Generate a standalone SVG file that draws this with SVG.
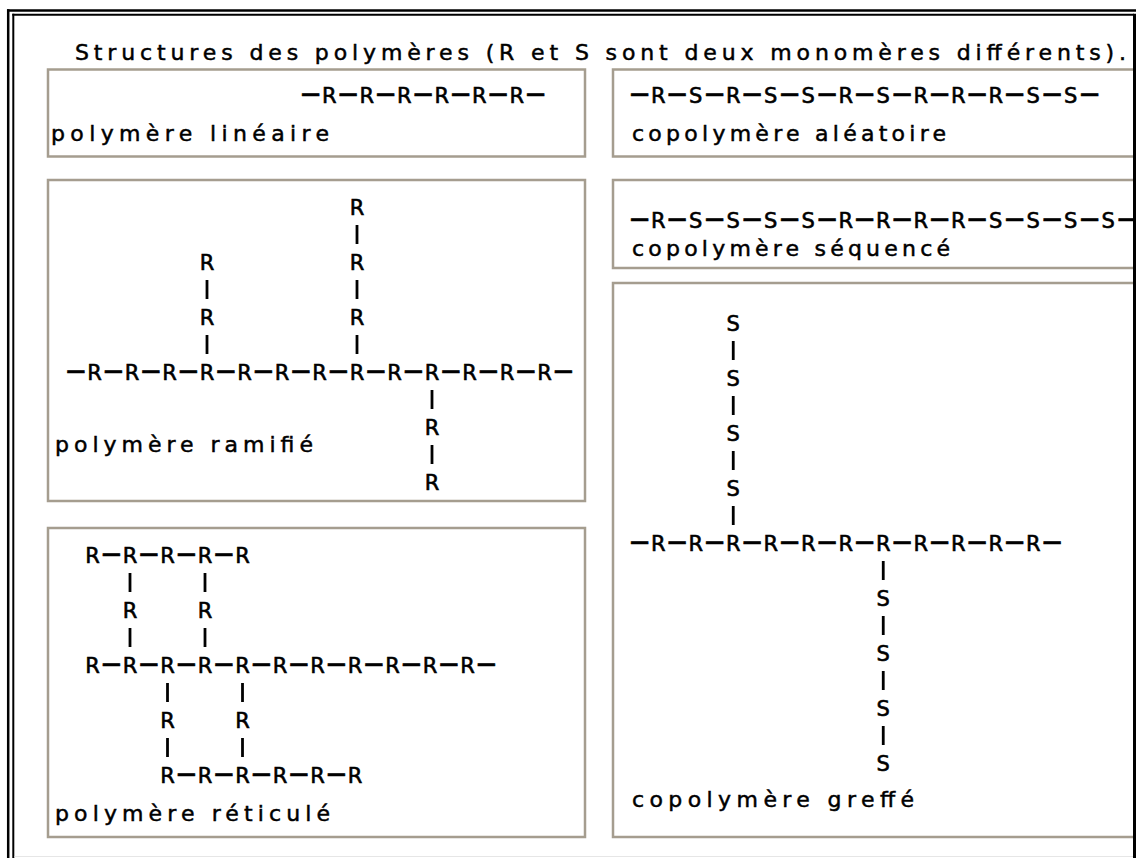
<svg xmlns="http://www.w3.org/2000/svg" width="1136" height="858" viewBox="0 0 1136 858">
  <style>
    .box{fill:#fff;stroke:#a59d8f;stroke-width:2.5}
    text{font-family:"DejaVu Sans","Liberation Sans",sans-serif;font-size:22px;fill:#000;stroke:#000;stroke-width:0.5}
    .ch{text-anchor:middle;font-size:21px;stroke-width:0.6}
    .d{font-size:27px}
    .bond{stroke:#000;stroke-width:2.8}
    .frame{stroke:#000;fill:none}
  </style>
  <rect width="1136" height="858" fill="#fff"/>

  <text id="title" x="75" y="60" textLength="1051">Structures des polymères (R et S sont deux monomères différents).</text>

  <!-- linear polymer -->
  <g id="lineaire">
    <rect class="box" x="48" y="69.5" width="537" height="87"/>
    <text class="ch" y="102.6" x="310.5 329.25 348 366.75 385.5 404.25 423 441.75 460.5 479.25 498 516.75 535.5"><tspan class="d">−</tspan>R<tspan class="d">−</tspan>R<tspan class="d">−</tspan>R<tspan class="d">−</tspan>R<tspan class="d">−</tspan>R<tspan class="d">−</tspan>R<tspan class="d">−</tspan></text>
    <text x="51" y="141" textLength="278">polymère linéaire</text>
  </g>

  <!-- random copolymer -->
  <g id="aleatoire">
    <rect class="box" x="613" y="69.5" width="540" height="87"/>
    <text class="ch" y="102.6" x="639.5 658.25 677 695.75 714.5 733.25 752 770.75 789.5 808.25 827 845.75 864.5 883.25 902 920.75 939.5 958.25 977 995.75 1014.5 1033.25 1052 1070.75 1089.5"><tspan class="d">−</tspan>R<tspan class="d">−</tspan>S<tspan class="d">−</tspan>R<tspan class="d">−</tspan>S<tspan class="d">−</tspan>S<tspan class="d">−</tspan>R<tspan class="d">−</tspan>S<tspan class="d">−</tspan>R<tspan class="d">−</tspan>R<tspan class="d">−</tspan>R<tspan class="d">−</tspan>S<tspan class="d">−</tspan>S<tspan class="d">−</tspan></text>
    <text x="632" y="141" textLength="314">copolymère aléatoire</text>
  </g>

  <!-- branched polymer -->
  <g id="ramifie">
    <rect class="box" x="48" y="180" width="537" height="321"/>
    <text class="ch" y="379.6" x="75.75 94.5 113.25 132 150.75 169.5 188.25 207 225.75 244.5 263.25 282 300.75 319.5 338.25 357 375.75 394.5 413.25 432 450.75 469.5 488.25 507 525.75 544.5 563.25"><tspan class="d">−</tspan>R<tspan class="d">−</tspan>R<tspan class="d">−</tspan>R<tspan class="d">−</tspan>R<tspan class="d">−</tspan>R<tspan class="d">−</tspan>R<tspan class="d">−</tspan>R<tspan class="d">−</tspan>R<tspan class="d">−</tspan>R<tspan class="d">−</tspan>R<tspan class="d">−</tspan>R<tspan class="d">−</tspan>R<tspan class="d">−</tspan>R<tspan class="d">−</tspan></text>
    <text class="ch" x="357" y="214.6">R</text>
    <text class="ch" x="357" y="269.6">R</text>
    <text class="ch" x="357" y="324.6">R</text>
    <text class="ch" x="207" y="269.6">R</text>
    <text class="ch" x="207" y="324.6">R</text>
    <text class="ch" x="432" y="434.6">R</text>
    <text class="ch" x="432" y="489.6">R</text>
    <text x="55" y="452" textLength="258">polymère ramifié</text>
  </g>

  <!-- block copolymer -->
  <g id="sequence">
    <rect class="box" x="613" y="180" width="540" height="88"/>
    <text class="ch" y="227.6" x="639.5 658.25 677 695.75 714.5 733.25 752 770.75 789.5 808.25 827 845.75 864.5 883.25 902 920.75 939.5 958.25 977 995.75 1014.5 1033.25 1052 1070.75 1089.5 1108.25 1127"><tspan class="d">−</tspan>R<tspan class="d">−</tspan>S<tspan class="d">−</tspan>S<tspan class="d">−</tspan>S<tspan class="d">−</tspan>S<tspan class="d">−</tspan>R<tspan class="d">−</tspan>R<tspan class="d">−</tspan>R<tspan class="d">−</tspan>R<tspan class="d">−</tspan>S<tspan class="d">−</tspan>S<tspan class="d">−</tspan>S<tspan class="d">−</tspan>S<tspan class="d">−</tspan></text>
    <text x="632" y="256" textLength="318">copolymère séquencé</text>
  </g>

  <!-- graft copolymer -->
  <g id="greffe">
    <rect class="box" x="613" y="283" width="540" height="554"/>
    <text class="ch" y="550.6" x="639.5 658.25 677 695.75 714.5 733.25 752 770.75 789.5 808.25 827 845.75 864.5 883.25 902 920.75 939.5 958.25 977 995.75 1014.5 1033.25 1052"><tspan class="d">−</tspan>R<tspan class="d">−</tspan>R<tspan class="d">−</tspan>R<tspan class="d">−</tspan>R<tspan class="d">−</tspan>R<tspan class="d">−</tspan>R<tspan class="d">−</tspan>R<tspan class="d">−</tspan>R<tspan class="d">−</tspan>R<tspan class="d">−</tspan>R<tspan class="d">−</tspan>R<tspan class="d">−</tspan></text>
    <text class="ch" x="733.25" y="330.6">S</text>
    <text class="ch" x="733.25" y="385.6">S</text>
    <text class="ch" x="733.25" y="440.6">S</text>
    <text class="ch" x="733.25" y="495.6">S</text>
    <text class="ch" x="883.25" y="605.6">S</text>
    <text class="ch" x="883.25" y="660.6">S</text>
    <text class="ch" x="883.25" y="715.6">S</text>
    <text class="ch" x="883.25" y="770.6">S</text>
    <text x="632" y="807" textLength="282">copolymère greffé</text>
  </g>

  <!-- cross-linked polymer -->
  <g id="reticule">
    <rect class="box" x="48" y="528" width="537" height="309"/>
    <text class="ch" y="562.6" x="92.5 111.25 130 148.75 167.5 186.25 205 223.75 242.5">R<tspan class="d">−</tspan>R<tspan class="d">−</tspan>R<tspan class="d">−</tspan>R<tspan class="d">−</tspan>R</text>
    <text class="ch" x="130" y="617.6">R</text>
    <text class="ch" x="205" y="617.6">R</text>
    <text class="ch" y="672.6" x="92.5 111.25 130 148.75 167.5 186.25 205 223.75 242.5 261.25 280 298.75 317.5 336.25 355 373.75 392.5 411.25 430 448.75 467.5 486.25">R<tspan class="d">−</tspan>R<tspan class="d">−</tspan>R<tspan class="d">−</tspan>R<tspan class="d">−</tspan>R<tspan class="d">−</tspan>R<tspan class="d">−</tspan>R<tspan class="d">−</tspan>R<tspan class="d">−</tspan>R<tspan class="d">−</tspan>R<tspan class="d">−</tspan>R<tspan class="d">−</tspan></text>
    <text class="ch" x="167.5" y="727.6">R</text>
    <text class="ch" x="242.5" y="727.6">R</text>
    <text class="ch" y="782.6" x="167.5 186.25 205 223.75 242.5 261.25 280 298.75 317.5 336.25 355">R<tspan class="d">−</tspan>R<tspan class="d">−</tspan>R<tspan class="d">−</tspan>R<tspan class="d">−</tspan>R<tspan class="d">−</tspan>R</text>
    <text x="55" y="821" textLength="275">polymère réticulé</text>
  </g>

  <!-- vertical bonds between chain units -->
  <g id="connectors" class="bond">
    <line x1="357" y1="225" x2="357" y2="244"/>
    <line x1="357" y1="280" x2="357" y2="299"/>
    <line x1="357" y1="335" x2="357" y2="354"/>
    <line x1="207" y1="280" x2="207" y2="299"/>
    <line x1="207" y1="335" x2="207" y2="354"/>
    <line x1="432" y1="390" x2="432" y2="409"/>
    <line x1="432" y1="445" x2="432" y2="464"/>

    <line x1="733.25" y1="341" x2="733.25" y2="360"/>
    <line x1="733.25" y1="396" x2="733.25" y2="415"/>
    <line x1="733.25" y1="451" x2="733.25" y2="470"/>
    <line x1="733.25" y1="506" x2="733.25" y2="525"/>
    <line x1="883.25" y1="561" x2="883.25" y2="580"/>
    <line x1="883.25" y1="616" x2="883.25" y2="635"/>
    <line x1="883.25" y1="671" x2="883.25" y2="690"/>
    <line x1="883.25" y1="726" x2="883.25" y2="745"/>

    <line x1="130" y1="573" x2="130" y2="592"/>
    <line x1="205" y1="573" x2="205" y2="592"/>
    <line x1="130" y1="628" x2="130" y2="647"/>
    <line x1="205" y1="628" x2="205" y2="647"/>
    <line x1="167.5" y1="683" x2="167.5" y2="702"/>
    <line x1="242.5" y1="683" x2="242.5" y2="702"/>
    <line x1="167.5" y1="738" x2="167.5" y2="757"/>
    <line x1="242.5" y1="738" x2="242.5" y2="757"/>
  </g>

  <!-- double window frame -->
  <g id="frame" class="frame">
    <line x1="7" y1="10.5" x2="1136" y2="10.5" stroke-width="2.5"/>
    <line x1="8.2" y1="9.3" x2="8.2" y2="858" stroke-width="2.5"/>
    <line x1="12.3" y1="14.8" x2="1134" y2="14.8" stroke-width="2"/>
    <line x1="13.3" y1="13.8" x2="13.3" y2="858" stroke-width="2"/>
    <line x1="1134.5" y1="13.8" x2="1134.5" y2="858" stroke-width="3"/>
    <line x1="14.5" y1="856.5" x2="1133" y2="856.5" stroke="#e6e6e6" stroke-width="1"/>
  </g>
</svg>
